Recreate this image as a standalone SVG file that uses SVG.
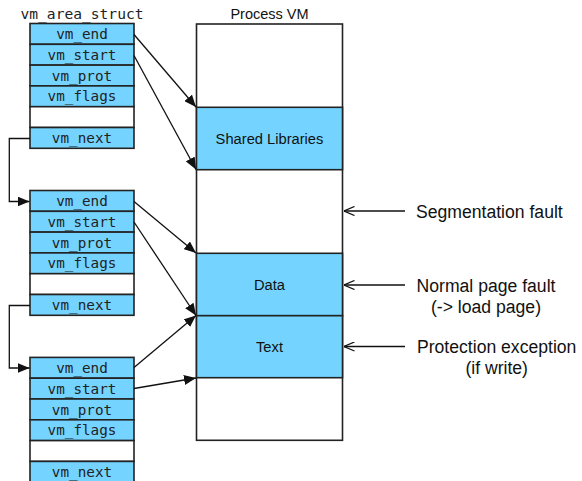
<svg xmlns="http://www.w3.org/2000/svg" width="582" height="481" viewBox="0 0 582 481">
<style>
.row{fill:#74D4FF;stroke:#222;stroke-width:1.6}
.blank{fill:#fff;stroke:#222;stroke-width:1.6}
.mono{font-family:"DejaVu Sans Mono","Liberation Mono",monospace;font-size:14.3px;fill:#222;text-anchor:middle}
.sans{font-family:"Liberation Sans",Arial,sans-serif;fill:#111}
.big{font-size:17.6px}
.conn{fill:none;stroke:#111;stroke-width:1.3}
</style>
<defs>
<marker id="fa" viewBox="0 0 12 10" refX="12" refY="5" markerWidth="12" markerHeight="10" markerUnits="userSpaceOnUse" orient="auto">
<path d="M0,0 L12,5 L0,10 z" fill="#111"/>
</marker>
<marker id="oa" viewBox="0 0 12 10" refX="11.5" refY="5" markerWidth="12" markerHeight="10" markerUnits="userSpaceOnUse" orient="auto">
<path d="M1,0.5 L11.5,5 L1,9.5" fill="none" stroke="#111" stroke-width="1.3"/>
</marker>
</defs>
<rect width="582" height="481" fill="#fff"/>
<text x="82" y="18.5" class="mono" style="font-size:14.6px">vm_area_struct</text>

<g id="struct1">
<rect class="row" x="30" y="23.5" width="104" height="20.8"/>
<rect class="row" x="30" y="44.3" width="104" height="20.8"/>
<rect class="row" x="30" y="65.1" width="104" height="20.8"/>
<rect class="row" x="30" y="85.9" width="104" height="20.8"/>
<rect class="blank" x="30" y="106.7" width="104" height="20.8"/>
<rect class="row" x="30" y="127.5" width="104" height="20.8"/>
<text class="mono" x="82" y="39">vm_end</text>
<text class="mono" x="82" y="59.8">vm_start</text>
<text class="mono" x="82" y="80.6">vm_prot</text>
<text class="mono" x="82" y="101.4">vm_flags</text>
<text class="mono" x="82" y="143">vm_next</text>
</g>

<g id="struct2">
<rect class="row" x="30" y="190.5" width="104" height="20.8"/>
<rect class="row" x="30" y="211.3" width="104" height="20.8"/>
<rect class="row" x="30" y="232.1" width="104" height="20.8"/>
<rect class="row" x="30" y="252.9" width="104" height="20.8"/>
<rect class="blank" x="30" y="273.7" width="104" height="20.8"/>
<rect class="row" x="30" y="294.5" width="104" height="20.8"/>
<text class="mono" x="82" y="206">vm_end</text>
<text class="mono" x="82" y="226.8">vm_start</text>
<text class="mono" x="82" y="247.6">vm_prot</text>
<text class="mono" x="82" y="268.4">vm_flags</text>
<text class="mono" x="82" y="310">vm_next</text>
</g>

<g id="struct3">
<rect class="row" x="30" y="357.4" width="104" height="20.8"/>
<rect class="row" x="30" y="378.2" width="104" height="20.8"/>
<rect class="row" x="30" y="399" width="104" height="20.8"/>
<rect class="row" x="30" y="419.8" width="104" height="20.8"/>
<rect class="blank" x="30" y="440.6" width="104" height="20.8"/>
<rect class="row" x="30" y="461.4" width="104" height="20.8"/>
<text class="mono" x="82" y="372.9">vm_end</text>
<text class="mono" x="82" y="393.7">vm_start</text>
<text class="mono" x="82" y="414.5">vm_prot</text>
<text class="mono" x="82" y="435.3">vm_flags</text>
<text class="mono" x="82" y="476.9">vm_next</text>
</g>

<g id="process-vm">
<text class="sans" x="269.5" y="18.5" font-size="14.5" text-anchor="middle">Process VM</text>
<rect x="196.5" y="24" width="146" height="416.3" fill="#fff" stroke="#222" stroke-width="1.6"/>
<rect class="row" x="196.5" y="107.3" width="146" height="62.4"/>
<rect class="row" x="196.5" y="253.3" width="146" height="62.4"/>
<rect class="row" x="196.5" y="315.7" width="146" height="62"/>
<text class="sans" x="269.5" y="143.5" font-size="14.7" text-anchor="middle">Shared Libraries</text>
<text class="sans" x="269.5" y="289.5" font-size="14.7" text-anchor="middle">Data</text>
<text class="sans" x="269.5" y="351.5" font-size="14.7" text-anchor="middle">Text</text>
</g>

<g id="labels">
<text class="sans big" x="416" y="218">Segmentation fault</text>
<text class="sans big" x="486" y="292" text-anchor="middle">Normal page fault</text>
<text class="sans big" x="486" y="312.5" text-anchor="middle">(-&gt; load page)</text>
<text class="sans big" x="496.7" y="353" text-anchor="middle">Protection exception</text>
<text class="sans big" x="496.7" y="373.5" text-anchor="middle">(if write)</text>
</g>

<g id="connectors">
<line class="conn" x1="134" y1="34.5" x2="196" y2="107" marker-end="url(#fa)"/>
<line class="conn" x1="134" y1="55.5" x2="196" y2="169.5" marker-end="url(#fa)"/>
<line class="conn" x1="134" y1="201.5" x2="196" y2="253" marker-end="url(#fa)"/>
<line class="conn" x1="134" y1="222" x2="196" y2="315.5" marker-end="url(#fa)"/>
<line class="conn" x1="134" y1="367.5" x2="196" y2="315.5" marker-end="url(#fa)"/>
<line class="conn" x1="134" y1="388.5" x2="196" y2="378" marker-end="url(#fa)"/>
<polyline class="conn" points="30,138.5 9.3,138.5 9.3,201.5 29.5,201.5" marker-end="url(#fa)"/>
<polyline class="conn" points="30,305.5 9.3,305.5 9.3,368 29.5,368" marker-end="url(#fa)"/>
<line class="conn" x1="405" y1="211" x2="344" y2="211" marker-end="url(#oa)"/>
<line class="conn" x1="405" y1="285" x2="344" y2="285" marker-end="url(#oa)"/>
<line class="conn" x1="405" y1="346.5" x2="344" y2="346.5" marker-end="url(#oa)"/>
</g>
</svg>
